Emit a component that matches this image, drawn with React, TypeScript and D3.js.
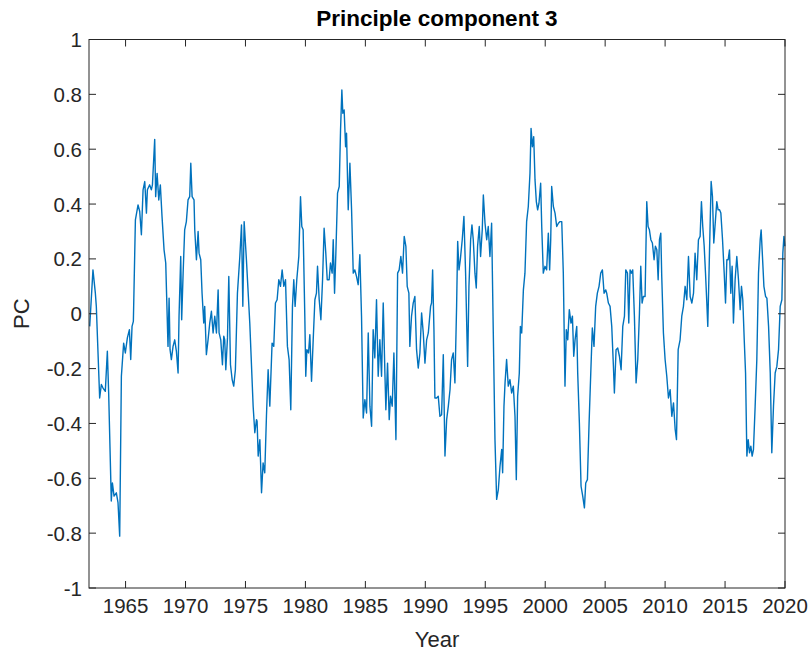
import React from 'react';
import * as d3 from 'd3';

const title = 'Principle component 3';
const xLabel = 'Year';
const yLabel = 'PC';
const xTicks = [1965, 1970, 1975, 1980, 1985, 1990, 1995, 2000, 2005, 2010, 2015, 2020];
const yTicks = [-1, -0.8, -0.6, -0.4, -0.2, 0, 0.2, 0.4, 0.6, 0.8, 1];
const xDomain = [1961.95, 2020];
const yDomain = [-1, 1];

const years = [
  1962.01, 1962.28, 1962.48, 1962.56, 1962.84, 1962.98, 1963.12, 1963.31, 1963.48, 1963.59,
  1963.81, 1963.9, 1964.04, 1964.23, 1964.37, 1964.51, 1964.65, 1964.84, 1964.98, 1965.15,
  1965.32, 1965.43, 1965.54, 1965.65, 1965.82, 1966.04, 1966.18, 1966.32, 1966.46, 1966.6,
  1966.74, 1966.82, 1967.01, 1967.15, 1967.24, 1967.43, 1967.51, 1967.63, 1967.77, 1967.9,
  1968.04, 1968.21, 1968.35, 1968.54, 1968.63, 1968.71, 1968.82, 1968.96, 1969.1, 1969.24,
  1969.38, 1969.46, 1969.6, 1969.68, 1969.8, 1969.93, 1970.07, 1970.21, 1970.35, 1970.44,
  1970.55, 1970.71, 1970.77, 1970.91, 1971.05, 1971.13, 1971.27, 1971.38, 1971.52, 1971.6,
  1971.74, 1971.88, 1972.02, 1972.16, 1972.3, 1972.44, 1972.58, 1972.72, 1972.8, 1972.94,
  1973.08, 1973.19, 1973.27, 1973.36, 1973.5, 1973.61, 1973.75, 1973.89, 1974.02, 1974.16,
  1974.33, 1974.53, 1974.67, 1974.78, 1974.89, 1975.08, 1975.36, 1975.64, 1975.78, 1975.92,
  1975.97, 1976.06, 1976.2, 1976.34, 1976.47, 1976.61, 1976.75, 1976.89, 1977.03, 1977.22,
  1977.36, 1977.5, 1977.64, 1977.78, 1977.92, 1978.06, 1978.2, 1978.34, 1978.5, 1978.64,
  1978.78, 1978.92, 1979.03, 1979.14, 1979.28, 1979.45, 1979.59, 1979.7, 1979.81, 1979.95,
  1980.03, 1980.12, 1980.26, 1980.37, 1980.51, 1980.65, 1980.79, 1980.92, 1981.01, 1981.15,
  1981.29, 1981.43, 1981.56, 1981.7, 1981.82, 1981.98, 1982.09, 1982.23, 1982.32, 1982.43,
  1982.54, 1982.68, 1982.82, 1982.93, 1983.04, 1983.12, 1983.23, 1983.35, 1983.43, 1983.57,
  1983.71, 1983.85, 1983.99, 1984.12, 1984.26, 1984.4, 1984.54, 1984.68, 1984.82, 1984.96,
  1985.1, 1985.24, 1985.38, 1985.52, 1985.65, 1985.79, 1985.93, 1986.07, 1986.21, 1986.35,
  1986.49, 1986.63, 1986.71, 1986.85, 1986.99, 1987.1, 1987.24, 1987.38, 1987.55, 1987.69,
  1987.82, 1987.96, 1988.1, 1988.24, 1988.38, 1988.49, 1988.63, 1988.71, 1988.85, 1988.99,
  1989.13, 1989.27, 1989.41, 1989.55, 1989.69, 1989.83, 1989.97, 1990.11, 1990.25, 1990.44,
  1990.52, 1990.61, 1990.72, 1990.8, 1990.94, 1991.08, 1991.22, 1991.36, 1991.5, 1991.64,
  1991.78, 1991.92, 1992.06, 1992.19, 1992.33, 1992.47, 1992.61, 1992.7, 1992.81, 1992.92,
  1993.08, 1993.22, 1993.36, 1993.53, 1993.64, 1993.78, 1993.89, 1994.0, 1994.14, 1994.25,
  1994.36, 1994.5, 1994.61, 1994.75, 1994.84, 1994.98, 1995.12, 1995.25, 1995.39, 1995.53,
  1995.67, 1995.81, 1995.95, 1996.09, 1996.23, 1996.37, 1996.45, 1996.56, 1996.65, 1996.78,
  1996.92, 1997.06, 1997.2, 1997.34, 1997.48, 1997.59, 1997.7, 1997.84, 1997.93, 1998.04,
  1998.18, 1998.31, 1998.45, 1998.59, 1998.73, 1998.82, 1998.93, 1999.04, 1999.15, 1999.26,
  1999.37, 1999.48, 1999.62, 1999.71, 1999.84, 1999.98, 2000.12, 2000.26, 2000.37, 2000.46,
  2000.54, 2000.68, 2000.82, 2000.96, 2001.1, 2001.24, 2001.38, 2001.51, 2001.65, 2001.76,
  2001.88, 2002.01, 2002.15, 2002.27, 2002.38, 2002.49, 2002.63, 2002.71, 2002.85, 2002.99,
  2003.13, 2003.27, 2003.38, 2003.52, 2003.66, 2003.8, 2003.93, 2004.07, 2004.21, 2004.35,
  2004.49, 2004.63, 2004.77, 2004.91, 2005.05, 2005.13, 2005.27, 2005.41, 2005.55, 2005.69,
  2005.77, 2005.91, 2006.05, 2006.19, 2006.33, 2006.47, 2006.61, 2006.72, 2006.86, 2006.97,
  2007.08, 2007.19, 2007.3, 2007.44, 2007.58, 2007.72, 2007.86, 2007.97, 2008.08, 2008.19,
  2008.33, 2008.47, 2008.58, 2008.69, 2008.81, 2008.94, 2009.08, 2009.19, 2009.31, 2009.42,
  2009.53, 2009.64, 2009.72, 2009.86, 2010.0, 2010.14, 2010.28, 2010.42, 2010.56, 2010.7,
  2010.84, 2010.95, 2011.09, 2011.25, 2011.39, 2011.53, 2011.67, 2011.81, 2011.95, 2012.09,
  2012.23, 2012.37, 2012.5, 2012.64, 2012.78, 2012.92, 2013.03, 2013.14, 2013.26, 2013.37,
  2013.48, 2013.56, 2013.7, 2013.84, 2013.95, 2014.06, 2014.2, 2014.31, 2014.42, 2014.54,
  2014.65, 2014.79, 2014.93, 2015.04, 2015.15, 2015.26, 2015.37, 2015.48, 2015.59, 2015.7,
  2015.84, 2015.98, 2016.12, 2016.26, 2016.37, 2016.48, 2016.6, 2016.71, 2016.82, 2016.93,
  2017.04, 2017.15, 2017.26, 2017.37, 2017.51, 2017.65, 2017.79, 2017.93, 2018.01, 2018.12,
  2018.24, 2018.38, 2018.49, 2018.63, 2018.77, 2018.9, 2019.04, 2019.18, 2019.32, 2019.46,
  2019.6, 2019.74, 2019.82, 2019.91, 2019.99,
];

const pc = [
  -0.046, 0.16, 0.075, 0.027, -0.307, -0.258, -0.271, -0.283, -0.137, -0.289,
  -0.683, -0.617, -0.665, -0.653, -0.689, -0.811, -0.228, -0.107, -0.143, -0.088,
  -0.058, -0.167, -0.046, -0.028, 0.342, 0.397, 0.373, 0.288, 0.452, 0.482,
  0.367, 0.452, 0.47, 0.452, 0.47, 0.636, 0.427, 0.512, 0.415, 0.47,
  0.355, 0.233, 0.185, -0.119, 0.057, -0.131, -0.167, -0.119, -0.095, -0.137,
  -0.216, -0.009, 0.209, -0.022, 0.148, 0.306, 0.336, 0.415, 0.427, 0.549,
  0.427, 0.415, 0.306, 0.197, 0.3, 0.221, 0.197, 0.075, -0.034, 0.027,
  -0.149, -0.095, -0.034, 0.009, -0.07, -0.009, -0.07, 0.087, -0.07, -0.095,
  -0.186, -0.082, -0.095, -0.204, -0.088, 0.136, -0.186, -0.24, -0.264, -0.204,
  0.075, 0.209, 0.324, 0.027, 0.336, 0.197, -0.034, -0.337, -0.434, -0.386,
  -0.392, -0.519, -0.459, -0.653, -0.544, -0.58, -0.374, -0.204, -0.337, -0.107,
  -0.119, 0.039, 0.051, 0.124, 0.1, 0.16, 0.1, 0.124, -0.119, -0.167,
  -0.35, 0.027, 0.124, 0.027, 0.124, 0.209, 0.427, 0.318, 0.306, -0.009,
  -0.228, -0.131, -0.143, -0.076, -0.246, -0.095, 0.051, 0.075, 0.173, 0.051,
  -0.022, 0.124, 0.312, 0.221, 0.124, 0.124, 0.185, 0.148, 0.27, 0.075,
  0.221, 0.44, 0.464, 0.67, 0.816, 0.731, 0.743, 0.609, 0.658, 0.379,
  0.549, 0.379, 0.148, 0.16, 0.136, 0.106, 0.215, -0.009, -0.38, -0.313,
  -0.362, -0.07, -0.337, -0.41, -0.058, -0.161, 0.051, -0.228, -0.095, -0.228,
  0.039, -0.216, -0.35, -0.18, -0.386, -0.301, -0.337, -0.143, -0.459, 0.148,
  0.16, 0.209, 0.148, 0.282, 0.246, 0.1, 0.075, -0.119, -0.009, 0.039,
  0.063, -0.131, -0.198, -0.143, 0.003, -0.07, -0.18, -0.095, -0.07, 0.027,
  0.039, 0.16, -0.058, -0.307, -0.307, -0.301, -0.374, -0.368, -0.149, -0.519,
  -0.386, -0.337, -0.277, -0.167, -0.143, -0.252, 0.027, 0.264, 0.16, 0.197,
  0.27, 0.355, 0.148, -0.192, 0.1, 0.27, 0.324, 0.27, 0.148, 0.094,
  0.246, 0.318, 0.209, 0.306, 0.433, 0.33, 0.27, 0.318, 0.209, 0.33,
  -0.07, -0.459, -0.677, -0.641, -0.556, -0.495, -0.58, -0.337, -0.252, -0.167,
  -0.264, -0.24, -0.289, -0.264, -0.374, -0.605, -0.301, -0.216, -0.046, -0.07,
  0.087, 0.148, 0.336, 0.391, 0.512, 0.676, 0.609, 0.646, 0.488, 0.409,
  0.379, 0.403, 0.476, 0.318, 0.148, 0.173, 0.16, 0.294, 0.16, 0.27,
  0.464, 0.391, 0.367, 0.318, 0.33, 0.336, 0.336, 0.148, -0.264, -0.058,
  -0.095, 0.015, -0.034, -0.009, -0.155, -0.095, -0.046, -0.216, -0.398, -0.629,
  -0.665, -0.708, -0.617, -0.605, -0.398, -0.216, -0.052, -0.119, 0.027, 0.075,
  0.1, 0.148, 0.16, 0.075, 0.087, 0.075, 0.039, 0.027, -0.046, -0.192,
  -0.289, -0.131, -0.125, -0.155, -0.204, -0.046, -0.009, 0.16, 0.148, -0.034,
  0.16, 0.148, 0.16, -0.009, -0.252, -0.167, 0.003, 0.173, 0.039, 0.063,
  0.063, 0.409, 0.318, 0.306, 0.27, 0.258, 0.197, 0.246, 0.233, 0.124,
  0.27, 0.294, 0.136, -0.07, -0.167, -0.228, -0.307, -0.277, -0.374, -0.325,
  -0.422, -0.459, -0.131, -0.095, -0.009, 0.027, 0.1, 0.051, 0.209, 0.063,
  0.039, 0.075, 0.221, 0.124, 0.27, 0.282, 0.409, 0.318, 0.246, 0.148,
  0.039, -0.046, 0.221, 0.482, 0.427, 0.258, 0.342, 0.409, 0.379, 0.379,
  0.367, 0.27, 0.148, 0.039, 0.197, 0.197, 0.233, 0.075, 0.173, -0.034,
  0.124, 0.209, 0.124, 0.015, 0.1, 0.051, -0.095, -0.216, -0.519, -0.459,
  -0.507, -0.483, -0.519, -0.495, -0.337, -0.167, 0.148, 0.27, 0.306, 0.209,
  0.1, 0.063, 0.057, -0.046, -0.216, -0.507, -0.337, -0.216, -0.192, -0.131,
  0.027, 0.051, 0.221, 0.282, 0.246,
];

const W = 812;
const H = 658;
const FONT = '"Liberation Sans", Arial, Helvetica, sans-serif';
const AXIS = '#262626';

export default function App() {
  const left = 89, right = 785, top = 39.5, bottom = 588;
  const x = d3.scaleLinear().domain(xDomain).range([left, right]);
  const y = d3.scaleLinear().domain(yDomain).range([bottom, top]);
  const pts: [number, number][] = years.map((t, i) => [t, pc[i]]);
  const line = d3.line<[number, number]>().x((d) => x(d[0])).y((d) => y(d[1]));
  const tl = 7;
  const fmtY = (v: number) => String(+v.toFixed(1));

  return (
    <svg width={W} height={H} style={{ position: 'absolute', left: 0, top: 0, display: 'block', background: '#fff' }}>
      <rect x={0} y={0} width={W} height={H} fill="#fff" />
      <path d={line(pts) || ''} fill="none" stroke="#0072BD" strokeWidth={1.4} strokeLinejoin="round" />
      <rect x={left} y={top} width={right - left} height={bottom - top} fill="none" stroke={AXIS} strokeWidth={1} />
      {xTicks.map((t) => (
        <g key={'x' + t}>
          <line x1={x(t)} x2={x(t)} y1={bottom} y2={bottom - tl} stroke={AXIS} />
          <line x1={x(t)} x2={x(t)} y1={top} y2={top + tl} stroke={AXIS} />
          <text x={x(t)} y={bottom + 24.5} textAnchor="middle" fontFamily={FONT} fontSize={20.5} fill={AXIS}>{t}</text>
        </g>
      ))}
      {yTicks.map((v) => (
        <g key={'y' + v}>
          <line x1={left} x2={left + tl} y1={y(v)} y2={y(v)} stroke={AXIS} />
          <line x1={right} x2={right - tl} y1={y(v)} y2={y(v)} stroke={AXIS} />
          <text x={left - 7} y={y(v) + 7.5} textAnchor="end" fontFamily={FONT} fontSize={20.5} fill={AXIS}>{fmtY(v)}</text>
        </g>
      ))}
      <text x={(left + right) / 2} y={26} textAnchor="middle" fontFamily={FONT} fontSize={22.5} fontWeight="bold" fill="#000">{title}</text>
      <text x={(left + right) / 2} y={647} textAnchor="middle" fontFamily={FONT} fontSize={22} fill={AXIS}>{xLabel}</text>
      <text transform={`translate(29, ${(top + bottom) / 2}) rotate(-90)`} textAnchor="middle" fontFamily={FONT} fontSize={22} fill={AXIS}>{yLabel}</text>
    </svg>
  );
}
